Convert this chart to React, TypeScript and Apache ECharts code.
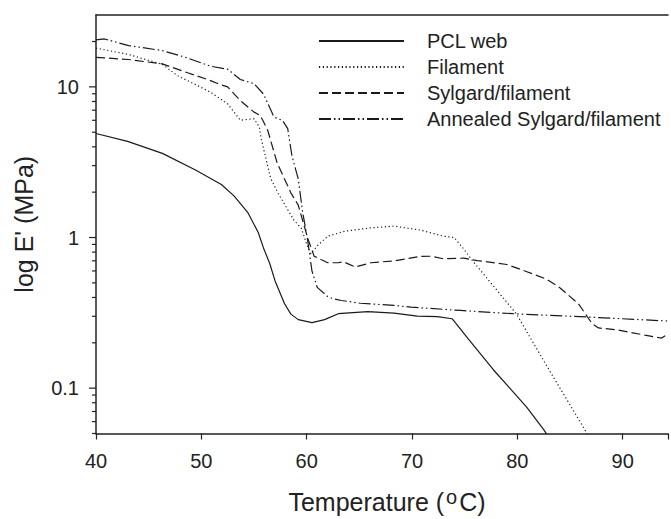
import React, { useEffect, useRef } from 'react';
import * as echarts from 'echarts';

const seriesNames = ['PCL web', 'Filament', 'Sylgard/filament', 'Annealed Sylgard/filament'];

const pclT = [40, 43, 46.3, 49.4, 51.9, 53.1, 54.4, 55.4, 55.9, 56.5, 57.0, 57.9, 58.5, 59.2, 60.5, 61.7, 63.0, 65.8, 68.3, 70.5, 72.4, 73.8, 74.3, 75.3, 77.7, 80.9, 82.5, 83.0];
const pclE = [4.9, 4.35, 3.62, 2.82, 2.25, 1.89, 1.47, 1.08, 0.853, 0.67, 0.515, 0.363, 0.31, 0.285, 0.272, 0.285, 0.312, 0.322, 0.315, 0.301, 0.298, 0.289, 0.262, 0.214, 0.133, 0.0745, 0.053, 0.047];

const filT = [40, 43.1, 46.3, 47.8, 49.4, 50.9, 52.5, 53.7, 54.1, 55.0, 55.5, 55.7, 56.3, 56.6, 57.3, 58.8, 59.5, 60.0, 60.4, 61.0, 62.0, 63.6, 66.1, 68.3, 70.8, 73.0, 74.0, 74.9, 75.9, 79.9, 82.8, 86.4, 87];
const filE = [18.1, 16.4, 14.1, 11.8, 10.4, 9.19, 7.71, 6.0, 6.05, 6.14, 5.42, 4.48, 2.97, 2.45, 1.96, 1.3, 1.15, 0.9, 0.78, 0.88, 1.02, 1.1, 1.16, 1.19, 1.12, 1.02, 1.0, 0.84, 0.68, 0.312, 0.14, 0.053, 0.045];

const sylT = [40, 43.1, 46.3, 48.7, 50.6, 51.9, 52.5, 53.7, 55.0, 55.6, 56.3, 57.2, 58.5, 59.2, 60.1, 60.7, 62.0, 63.0, 63.5, 64.6, 66.1, 68.3, 70.8, 71.8, 73.0, 74.9, 76.2, 79.0, 80.9, 82.8, 84.0, 85.8, 87.1, 87.7, 89.6, 92.1, 93.7, 94.3];
const sylE = [15.7, 15.2, 14.2, 12.4, 11.2, 10.3, 10.0, 8.1, 6.8, 6.46, 5.15, 3.12, 1.98, 1.64, 0.99, 0.752, 0.68, 0.68, 0.69, 0.637, 0.68, 0.7, 0.75, 0.751, 0.722, 0.73, 0.703, 0.662, 0.593, 0.528, 0.466, 0.363, 0.268, 0.251, 0.243, 0.225, 0.215, 0.23];

const annT = [40, 40.8, 43.1, 46.3, 48.5, 50.9, 52.5, 53.7, 55.0, 55.9, 56.9, 57.7, 58.2, 58.6, 59.2, 59.6, 60.1, 60.5, 61.0, 62.0, 62.6, 63.3, 65.1, 68.3, 69.9, 74.6, 79.6, 86.5, 94.3];
const annE = [20.5, 20.8, 18.8, 17.4, 15.7, 13.7, 13.1, 11.2, 10.5, 8.96, 6.3, 5.99, 5.28, 3.48, 2.45, 1.5, 0.95, 0.6, 0.467, 0.405, 0.391, 0.382, 0.366, 0.354, 0.345, 0.328, 0.312, 0.297, 0.279];

const xMin = 40;
const xMax = 94.3;
const xInterval = 10;
const yMin = 0.05;
const yMax = 30;
const yMajorTicks = [0.1, 1, 10];
const yMinorTicks = [0.05, 0.06, 0.07, 0.08, 0.09, 0.2, 0.3, 0.4, 0.5, 0.6, 0.7, 0.8, 0.9, 2, 3, 4, 5, 6, 7, 8, 9, 20];

const zip = (t: number[], e: number[]) => t.map((x, i) => [x, e[i]]);

const FONT = 'Liberation Sans, Arial, sans-serif';
const INK = '#222';

export default function App() {
  const ref = useRef<HTMLDivElement>(null);
  useEffect(() => {
    if (!ref.current) return;
    const chart = echarts.init(ref.current, undefined, { renderer: 'svg' });
    const lineBase = { color: '#1a1a1a', width: 1.2, cap: 'butt' as const };
    const dashes: any[] = ['solid', [1.2, 2.6], [9, 4], [12, 3, 1.5, 3, 1.5, 3]];
    const datasets = [zip(pclT, pclE), zip(filT, filE), zip(sylT, sylE), zip(annT, annE)];
    chart.setOption({
      animation: false,
      textStyle: { fontFamily: FONT, color: INK },
      grid: { left: 96, top: 15, right: -2, bottom: 85, containLabel: false },
      legend: {
        orient: 'vertical',
        left: 313,
        top: 26,
        itemWidth: 85,
        itemHeight: 14,
        itemGap: 6,
        data: seriesNames,
        itemStyle: { opacity: 0, color: 'rgba(0,0,0,0)', borderWidth: 0 },
        textStyle: { fontSize: 20, fontFamily: FONT, color: INK, padding: [0, 0, 0, 18] },
      },
      xAxis: [
        {
          type: 'value',
          min: xMin,
          max: xMax,
          interval: xInterval,
          position: 'bottom',
          name: '{n|Temperature (}{s|o}{n|C)}',
          nameLocation: 'middle',
          nameGap: 53,
          nameTextStyle: {
            fontFamily: FONT,
            color: INK,
            fontSize: 25,
            padding: [0, 0, 0, 10],
            rich: {
              n: { fontSize: 25, lineHeight: 30, fontFamily: FONT, color: INK },
              s: { fontSize: 20, lineHeight: 20, fontFamily: FONT, color: INK, verticalAlign: 'top', padding: [0, 2, 0, 2] },
            },
          },
          axisLine: { show: true, onZero: false, lineStyle: { color: INK, width: 1.5 } },
          axisTick: { show: true, inside: false, length: 6, lineStyle: { color: INK, width: 1.2 } },
          axisLabel: {
            fontSize: 20,
            fontFamily: FONT,
            color: INK,
            margin: 17,
            formatter: (v: number) => (Math.abs(v % 10) < 1e-9 ? String(v) : ''),
          },
          splitLine: { show: false },
        },
        {
          type: 'value',
          min: xMin,
          max: xMax,
          position: 'top',
          axisLine: { show: true, onZero: false, lineStyle: { color: INK, width: 1.5 } },
          axisTick: { show: false },
          axisLabel: { show: false },
          splitLine: { show: false },
        },
      ],
      yAxis: {
        type: 'log',
        logBase: 10,
        min: yMin,
        max: yMax,
        name: "log E' (MPa)",
        nameLocation: 'middle',
        nameGap: 60,
        nameTextStyle: { fontSize: 25, fontFamily: FONT, color: INK },
        axisLine: { show: true, onZero: false, lineStyle: { color: INK, width: 1.5 } },
        axisTick: { show: false },
        axisLabel: {
          fontSize: 20,
          fontFamily: FONT,
          color: INK,
          margin: 17,
          formatter: (v: number) => {
            const l = Math.log10(v);
            return Math.abs(l - Math.round(l)) < 1e-6 ? String(Number(v.toPrecision(6))) : '';
          },
        },
        splitLine: { show: false },
        minorTick: { show: false },
      },
      series: seriesNames.map((name, i) => ({
        name,
        type: 'line',
        xAxisIndex: 0,
        yAxisIndex: 0,
        data: datasets[i],
        showSymbol: false,
        symbol: 'none',
        clip: true,
        lineStyle: { ...lineBase, type: dashes[i] },
        itemStyle: { color: '#1a1a1a' },
        emphasis: { disabled: true },
      })),
    });

    const x0 = chart.convertToPixel({ xAxisIndex: 0 }, xMin) as number;
    const tickEls = [
      ...yMajorTicks.map((v) => ({ v, len: 7 })),
      ...yMinorTicks.map((v) => ({ v, len: 4 })),
    ].map(({ v, len }) => {
      const y = chart.convertToPixel({ yAxisIndex: 0 }, v) as number;
      return {
        type: 'line',
        silent: true,
        shape: { x1: x0 - len, y1: y, x2: x0, y2: y },
        style: { stroke: INK, lineWidth: 1.2 },
      };
    });
    chart.setOption({ graphic: tickEls });

    return () => chart.dispose();
  }, []);
  return (
    <div
      ref={ref}
      style={{ position: 'absolute', left: 0, top: 0, width: 671, height: 519, background: '#fff' }}
    />
  );
}
